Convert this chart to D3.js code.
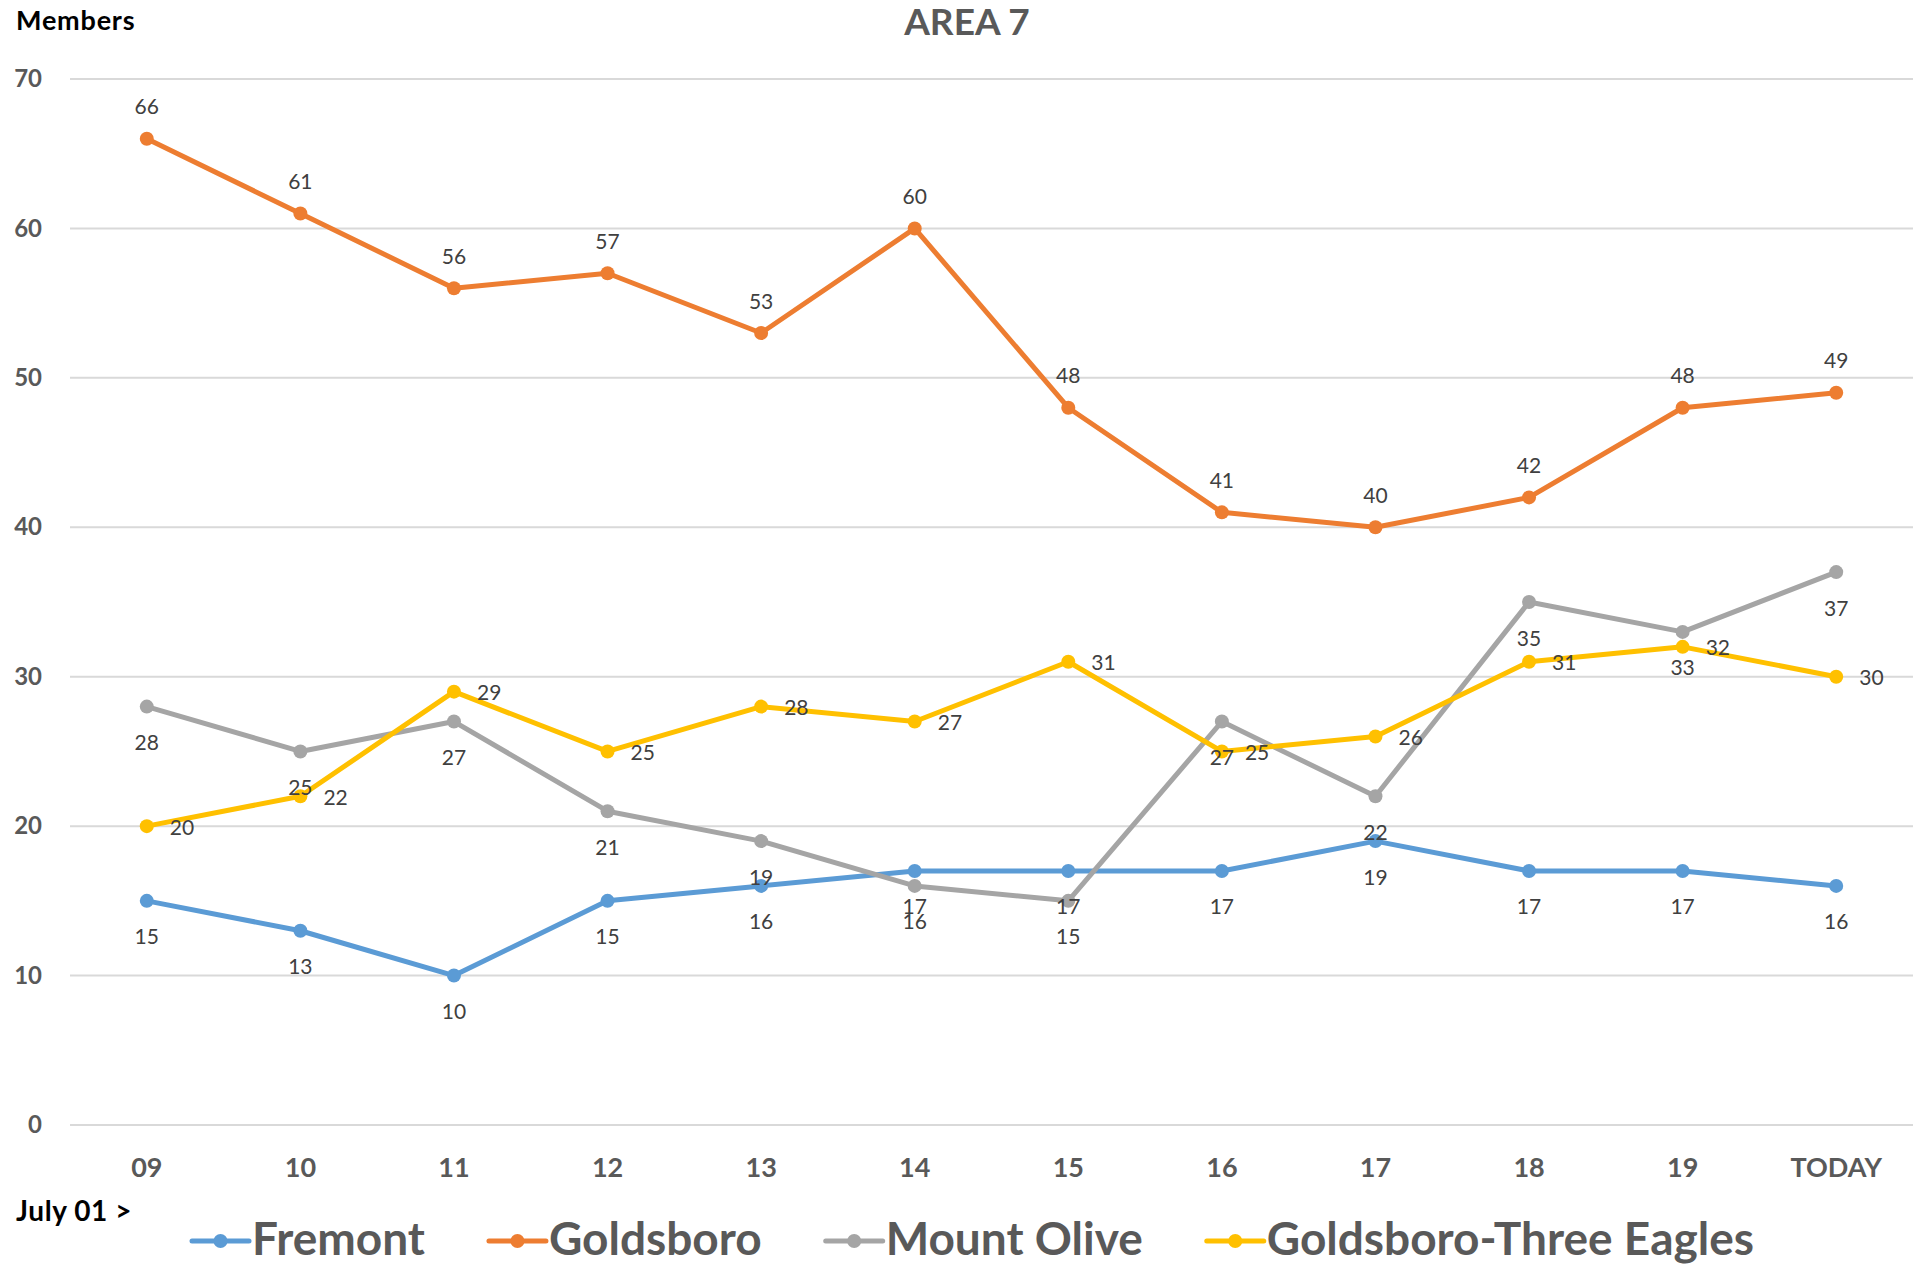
<!DOCTYPE html>
<html>
<head>
<meta charset="utf-8">
<script src="https://cdn.jsdelivr.net/npm/d3@7"></script>
<style>
  html, body { margin: 0; padding: 0; background: #fff; }
  svg { display: block; font-family: Lato, "Open Sans", sans-serif; }
</style>
</head>
<body>
<svg id="chart" width="1925" height="1266"></svg>
<script>
// Daily member counts, AREA 7
const days = ["09", "10", "11", "12", "13", "14", "15", "16", "17", "18", "19", "TODAY"];
const fremont = [15, 13, 10, 15, 16, 17, 17, 17, 19, 17, 17, 16];
const goldsboro = [66, 61, 56, 57, 53, 60, 48, 41, 40, 42, 48, 49];
const mountOlive = [28, 25, 27, 21, 19, 16, 15, 27, 22, 35, 33, 37];
const threeEagles = [20, 22, 29, 25, 28, 27, 31, 25, 26, 31, 32, 30];
const yTicks = [0, 10, 20, 30, 40, 50, 60, 70];

const series = [
  { name: "Fremont", values: fremont, color: "#5B9BD5", labelPos: "below" },
  { name: "Goldsboro", values: goldsboro, color: "#ED7D31", labelPos: "above" },
  { name: "Mount Olive", values: mountOlive, color: "#A5A5A5", labelPos: "below" },
  { name: "Goldsboro-Three Eagles", values: threeEagles, color: "#FFC000", labelPos: "right" }
];

const svg = d3.select("#chart");
const plot = { left: 70, right: 1913, top: 79, bottom: 1125 };

const x = d3.scaleBand().domain(days).range([plot.left, plot.right]);
const cx = d => x(d) + x.bandwidth() / 2;
const y = d3.scaleLinear().domain([0, 70]).range([plot.bottom, plot.top]);

// Horizontal gridlines
svg.append("g")
  .selectAll("line")
  .data(yTicks)
  .join("line")
  .attr("x1", plot.left).attr("x2", plot.right)
  .attr("y1", d => y(d)).attr("y2", d => y(d))
  .attr("stroke", "#D9D9D9").attr("stroke-width", 2);

// Y axis labels
const yAxis = svg.append("g")
  .attr("transform", `translate(${42},0)`)
  .call(d3.axisLeft(y).tickValues(yTicks).tickSize(0).tickPadding(0));
yAxis.select(".domain").remove();
yAxis.selectAll("text")
  .attr("font-family", "Lato, sans-serif")
  .attr("font-size", 24).attr("font-weight", 700)
  .attr("fill", "#595959");

// X axis labels
const xAxis = svg.append("g")
  .attr("transform", `translate(0,${1158})`)
  .call(d3.axisBottom(x).tickSize(0).tickPadding(0));
xAxis.select(".domain").remove();
xAxis.selectAll("text")
  .attr("font-family", "Lato, sans-serif")
  .attr("font-size", 27).attr("font-weight", 700)
  .attr("fill", "#595959");

// Lines and markers
const line = d3.line().x((d, i) => cx(days[i])).y(d => y(d));
series.forEach(s => {
  const g = svg.append("g");
  g.append("path")
    .attr("d", line(s.values))
    .attr("fill", "none").attr("stroke", s.color)
    .attr("stroke-width", 5).attr("stroke-linejoin", "round").attr("stroke-linecap", "round");
  g.selectAll("circle")
    .data(s.values)
    .join("circle")
    .attr("cx", (d, i) => cx(days[i])).attr("cy", d => y(d))
    .attr("r", 7).attr("fill", s.color);
});

// Data labels
series.forEach(s => {
  svg.append("g")
    .selectAll("text")
    .data(s.values)
    .join("text")
    .attr("x", (d, i) => cx(days[i]) + (s.labelPos === "right" ? 23 : 0))
    .attr("y", d => y(d) + (s.labelPos === "above" ? -33 : s.labelPos === "below" ? 35 : 0))
    .attr("text-anchor", s.labelPos === "right" ? "start" : "middle")
    .attr("dominant-baseline", "central")
    .attr("font-size", 21).attr("fill", "#404040")
    .text(d => d);
});

// Title
svg.append("text")
  .attr("x", 967).attr("y", 35)
  .attr("text-anchor", "middle")
  .attr("font-size", 37).attr("font-weight", 700).attr("fill", "#595959")
  .text("AREA 7");

// Axis captions
svg.append("text")
  .attr("x", 16).attr("y", 30)
  .attr("font-size", 27).attr("font-weight", 700).attr("fill", "#000")
  .attr("letter-spacing", 0.8)
  .text("Members");
svg.append("text")
  .attr("x", 16).attr("y", 1221)
  .attr("font-size", 28).attr("font-weight", 700).attr("fill", "#000")
  .attr("letter-spacing", 0.6)
  .text("July 01 >");

// Legend
const legend = svg.append("g");
const items = legend.selectAll("g")
  .data(series)
  .join("g");
items.append("line")
  .attr("x1", 0).attr("x2", 57).attr("y1", 1241).attr("y2", 1241)
  .attr("stroke", d => d.color).attr("stroke-width", 5).attr("stroke-linecap", "round");
items.append("circle")
  .attr("cx", 28.5).attr("cy", 1241).attr("r", 7).attr("fill", d => d.color);
items.append("text")
  .attr("x", 60).attr("y", 1255)
  .attr("font-size", 46).attr("font-weight", 700).attr("fill", "#595959")
  .text(d => d.name);

const widths = [];
items.each(function () {
  const w = 60 + d3.select(this).select("text").node().getComputedTextLength();
  widths.push(w);
});
const gap = 64;
const total = d3.sum(widths) + gap * (widths.length - 1);
let start = 973 - total / 2;
items.attr("transform", (d, i) => {
  const t = `translate(${start},0)`;
  start += widths[i] + gap;
  return t;
});
</script>
</body>
</html>
